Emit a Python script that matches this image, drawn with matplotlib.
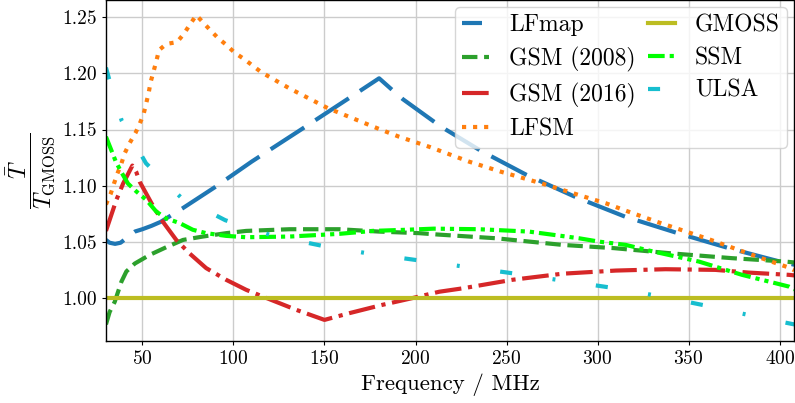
import numpy as np
import matplotlib
matplotlib.use('Agg')
import matplotlib.pyplot as plt

plt.rcParams['font.family'] = ['cmr10', 'DejaVu Serif']
plt.rcParams['mathtext.fontset'] = 'cm'
plt.rcParams['axes.formatter.use_mathtext'] = True

# данные (частота в МГц, отношение T / T_GMOSS)
lfmap_f = [30, 32, 35, 38, 40, 43, 46, 50, 55, 60, 65, 72, 90, 110, 140, 165, 180,
           188, 193, 211, 217, 236, 261, 288, 315, 344, 372, 400, 408]
lfmap_v = [1.052, 1.0495, 1.0485, 1.0495, 1.052, 1.056, 1.0595, 1.0615, 1.0645, 1.068,
           1.073, 1.080, 1.099, 1.1215, 1.153, 1.1795, 1.1955, 1.184, 1.177, 1.156,
           1.1496, 1.131, 1.1097, 1.090, 1.0727, 1.058, 1.0447, 1.0328, 1.030]

gsm08_f = [30, 32, 34.8, 38.5, 41.2, 45.8, 54, 63.2, 72.3, 83.2, 96, 107, 130.8, 158.2,
           180, 202, 213, 244, 280.6, 309, 341, 373.8, 403, 408]
gsm08_v = [0.977, 0.988, 0.997, 1.015, 1.024, 1.031, 1.0387, 1.0456, 1.052, 1.055, 1.058,
           1.060, 1.0615, 1.0615, 1.0594, 1.058, 1.0567, 1.0535, 1.0476, 1.0447, 1.040,
           1.0358, 1.0328, 1.032]

gsm16_f = [30, 35.7, 39.4, 44.5, 46.7, 48.5, 55, 60.4, 68.6, 75.9, 85, 96, 107, 116, 134.4,
           150, 163.7, 181.9, 198.4, 213, 225.8, 253.2, 280.6, 310, 337.3, 364.7, 383, 405, 408]
gsm16_v = [1.060, 1.0875, 1.102, 1.118, 1.112, 1.1037, 1.0846, 1.070, 1.052, 1.040, 1.027,
           1.0166, 1.0077, 1.0018, 0.990, 0.981, 0.987, 0.9944, 1.0004, 1.006, 1.009, 1.0166,
           1.022, 1.0248, 1.026, 1.0254, 1.023, 1.021, 1.0205]

lfsm_f = [30, 32.6, 34.4, 36.3, 38.5, 40.3, 43, 46.2, 48.5, 50.7, 52.2, 53.5, 54.5, 56.2,
          57.7, 59.1, 63.2, 69, 72.8, 76, 79.6, 83.4, 87.4, 91.7, 96.2, 100.8, 105.5, 115.2,
          130.8, 151.8, 179.2, 191, 207.5, 229.4, 246.8, 269.6, 293.4, 304.4, 315.4, 332.7,
          361, 388.4, 405.8, 408]
lfsm_v = [1.0835, 1.093, 1.102, 1.111, 1.120, 1.129, 1.138, 1.147, 1.155, 1.164, 1.174,
          1.183, 1.192, 1.202, 1.211, 1.2205, 1.226, 1.2276, 1.235, 1.243, 1.2515, 1.245,
          1.238, 1.231, 1.225, 1.218, 1.213, 1.201, 1.1865, 1.169, 1.151, 1.1436, 1.1347,
          1.1215, 1.1126, 1.102, 1.090, 1.0846, 1.078, 1.068, 1.0527, 1.0367, 1.027, 1.025]

gmoss_f = [30, 408]
gmoss_v = [1.0, 1.0]

ssm_f = [30, 33.6, 35.4, 38.5, 42.1, 46.7, 52.2, 57.7, 63.2, 70.4, 77.7, 85, 96, 107,
         130.8, 158.2, 176.4, 194.7, 210, 234.9, 262.3, 289.7, 300.7, 315.4, 328.1, 355.6,
         379.3, 405, 408]
ssm_v = [1.1436, 1.129, 1.1215, 1.112, 1.102, 1.095, 1.0875, 1.077, 1.071, 1.067, 1.061,
         1.058, 1.0556, 1.0544, 1.055, 1.0574, 1.060, 1.061, 1.062, 1.0615, 1.0594, 1.0535,
         1.0505, 1.0476, 1.0426, 1.0328, 1.021, 1.0106, 1.008]

ulsa_f = [30, 31.7, 38.6, 52, 71, 95.5, 121, 148, 174, 201, 228, 255, 281.5, 308, 334.7,
          361.5, 388, 408]
ulsa_v = [1.205, 1.195, 1.158, 1.120, 1.090, 1.0695, 1.056, 1.047, 1.040, 1.034, 1.028,
          1.022, 1.0157, 1.0095, 1.0018, 0.993, 0.9835, 0.977]

xticks = [50, 100, 150, 200, 250, 300, 350, 400]
yticks = [1.00, 1.05, 1.10, 1.15, 1.20, 1.25]

fig = plt.figure(figsize=(7.95, 4.03), dpi=100)
ax = fig.add_axes([0.1333, 0.1531, 0.8658, 0.8469])
ax.set_axisbelow(True)
ax.grid(True, color='#cccccc', lw=1.0)

lw = 3
ax.plot(lfmap_f, lfmap_v, color='#1f77b4', lw=lw, ls=(4.8, (9.6, 3.2)), label='LFmap')
ax.plot(gsm08_f, gsm08_v, color='#2ca02c', lw=lw, ls='--', label='GSM (2008)')
ax.plot(gsm16_f, gsm16_v, color='#d62728', lw=lw, ls='-.', label='GSM (2016)')
ax.plot(lfsm_f, lfsm_v, color='#ff7f0e', lw=lw, ls=':', label='LFSM')
ax.plot(gmoss_f, gmoss_v, color='#bcbd22', lw=lw, ls='-', label='GMOSS')
ax.plot(ssm_f, ssm_v, color='#00ff00', lw=lw, ls=(0, (4, 1.2, 1, 1.2, 1, 1.2)), label='SSM')
ax.plot(ulsa_f, ulsa_v, color='#17becf', lw=lw, ls=(0, (2.9, 9.8, 0.7, 9.8)), label='ULSA')

ax.set_xlim(30, 408)
ax.set_ylim(0.962, 1.265)
ax.set_xticks(xticks)
ax.set_yticks(yticks)
ax.set_yticklabels([f'{t:.2f}' for t in yticks])
ax.tick_params(labelsize=14, length=3)
for s in ax.spines.values():
    s.set_color('black')
    s.set_linewidth(1.0)

ax.set_xlabel('Frequency / MHz', fontsize=16.5, labelpad=4)
ax.set_ylabel(r'$\dfrac{\bar{T}}{T_{\rm GMOSS}}$', fontsize=17, labelpad=4)

ax.legend(loc='upper right', ncol=2, fontsize=17, handlelength=1.15, handletextpad=0.85,
          columnspacing=0.5, labelspacing=0.45, borderpad=0.3, borderaxespad=0.3)

fig.savefig('out.png', dpi=100)
print('done')
